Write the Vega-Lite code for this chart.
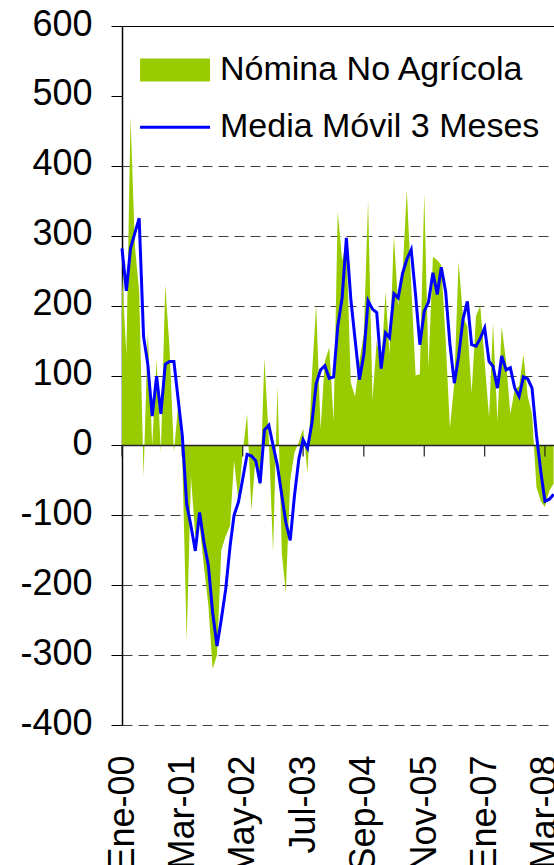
{
  "$schema": "https://vega.github.io/schema/vega-lite/v6.json",
  "width": 436,
  "height": 699,
  "autosize": {"type": "none"},
  "padding": {"left": 122, "top": 26, "right": 0, "bottom": 140},
  "background": "white",
  "config": {"view": {"stroke": null}, "font": "Liberation Sans"},
  "data": {"values": [
    {"fecha": "2000-01-01", "nomina": 246, "media": 282},
    {"fecha": "2000-02-01", "nomina": 130, "media": 221},
    {"fecha": "2000-03-01", "nomina": 470, "media": 282},
    {"fecha": "2000-04-01", "nomina": 285, "media": 304},
    {"fecha": "2000-05-01", "nomina": 220, "media": 325},
    {"fecha": "2000-06-01", "nomina": -45, "media": 156},
    {"fecha": "2000-07-01", "nomina": 163, "media": 116},
    {"fecha": "2000-08-01", "nomina": 0, "media": 42},
    {"fecha": "2000-09-01", "nomina": 123, "media": 99},
    {"fecha": "2000-10-01", "nomina": -10, "media": 45},
    {"fecha": "2000-11-01", "nomina": 230, "media": 116},
    {"fecha": "2000-12-01", "nomina": 140, "media": 120},
    {"fecha": "2001-01-01", "nomina": -10, "media": 120},
    {"fecha": "2001-02-01", "nomina": 60, "media": 64},
    {"fecha": "2001-03-01", "nomina": -15, "media": 14},
    {"fecha": "2001-04-01", "nomina": -280, "media": -84},
    {"fecha": "2001-05-01", "nomina": -45, "media": -115},
    {"fecha": "2001-06-01", "nomina": -130, "media": -151},
    {"fecha": "2001-07-01", "nomina": -113, "media": -96},
    {"fecha": "2001-08-01", "nomina": -174, "media": -139},
    {"fecha": "2001-09-01", "nomina": -229, "media": -172},
    {"fecha": "2001-10-01", "nomina": -320, "media": -239},
    {"fecha": "2001-11-01", "nomina": -300, "media": -287},
    {"fecha": "2001-12-01", "nomina": -150, "media": -249},
    {"fecha": "2002-01-01", "nomina": -130, "media": -206},
    {"fecha": "2002-02-01", "nomina": -115, "media": -144},
    {"fecha": "2002-03-01", "nomina": -22, "media": -100},
    {"fecha": "2002-04-01", "nomina": -80, "media": -81},
    {"fecha": "2002-05-01", "nomina": -10, "media": -48},
    {"fecha": "2002-06-01", "nomina": 45, "media": -13},
    {"fecha": "2002-07-01", "nomina": -93, "media": -15},
    {"fecha": "2002-08-01", "nomina": -15, "media": -22},
    {"fecha": "2002-09-01", "nomina": -60, "media": -54},
    {"fecha": "2002-10-01", "nomina": 125, "media": 22},
    {"fecha": "2002-11-01", "nomina": 10, "media": 29},
    {"fecha": "2002-12-01", "nomina": -153, "media": 0},
    {"fecha": "2003-01-01", "nomina": 85, "media": -29},
    {"fecha": "2003-02-01", "nomina": -155, "media": -72},
    {"fecha": "2003-03-01", "nomina": -210, "media": -110},
    {"fecha": "2003-04-01", "nomina": -50, "media": -136},
    {"fecha": "2003-05-01", "nomina": -10, "media": -72},
    {"fecha": "2003-06-01", "nomina": 5, "media": -19},
    {"fecha": "2003-07-01", "nomina": 24, "media": 8},
    {"fecha": "2003-08-01", "nomina": -40, "media": -4},
    {"fecha": "2003-09-01", "nomina": 100, "media": 32},
    {"fecha": "2003-10-01", "nomina": 201, "media": 88},
    {"fecha": "2003-11-01", "nomina": 23, "media": 108},
    {"fecha": "2003-12-01", "nomina": 120, "media": 114},
    {"fecha": "2004-01-01", "nomina": 140, "media": 96},
    {"fecha": "2004-02-01", "nomina": 35, "media": 98},
    {"fecha": "2004-03-01", "nomina": 335, "media": 170},
    {"fecha": "2004-04-01", "nomina": 265, "media": 211},
    {"fecha": "2004-05-01", "nomina": 291, "media": 297},
    {"fecha": "2004-06-01", "nomina": 90, "media": 210},
    {"fecha": "2004-07-01", "nomina": 70, "media": 152},
    {"fecha": "2004-08-01", "nomina": 120, "media": 94},
    {"fecha": "2004-09-01", "nomina": 160, "media": 130},
    {"fecha": "2004-10-01", "nomina": 350, "media": 207},
    {"fecha": "2004-11-01", "nomina": 65, "media": 195},
    {"fecha": "2004-12-01", "nomina": 150, "media": 190},
    {"fecha": "2005-01-01", "nomina": 110, "media": 110},
    {"fecha": "2005-02-01", "nomina": 220, "media": 161},
    {"fecha": "2005-03-01", "nomina": 130, "media": 154},
    {"fecha": "2005-04-01", "nomina": 300, "media": 217},
    {"fecha": "2005-05-01", "nomina": 200, "media": 211},
    {"fecha": "2005-06-01", "nomina": 245, "media": 246},
    {"fecha": "2005-07-01", "nomina": 365, "media": 266},
    {"fecha": "2005-08-01", "nomina": 230, "media": 280},
    {"fecha": "2005-09-01", "nomina": 100, "media": 215},
    {"fecha": "2005-10-01", "nomina": 102, "media": 144},
    {"fecha": "2005-11-01", "nomina": 360, "media": 192},
    {"fecha": "2005-12-01", "nomina": 111, "media": 205},
    {"fecha": "2006-01-01", "nomina": 270, "media": 247},
    {"fecha": "2006-02-01", "nomina": 265, "media": 216},
    {"fecha": "2006-03-01", "nomina": 258, "media": 255},
    {"fecha": "2006-04-01", "nomina": 150, "media": 220},
    {"fecha": "2006-05-01", "nomina": 25, "media": 145},
    {"fecha": "2006-06-01", "nomina": 90, "media": 89},
    {"fecha": "2006-07-01", "nomina": 263, "media": 127},
    {"fecha": "2006-08-01", "nomina": 185, "media": 180},
    {"fecha": "2006-09-01", "nomina": 170, "media": 206},
    {"fecha": "2006-10-01", "nomina": 75, "media": 144},
    {"fecha": "2006-11-01", "nomina": 185, "media": 142},
    {"fecha": "2006-12-01", "nomina": 200, "media": 153},
    {"fecha": "2007-01-01", "nomina": 120, "media": 168},
    {"fecha": "2007-02-01", "nomina": 40, "media": 120},
    {"fecha": "2007-03-01", "nomina": 175, "media": 113},
    {"fecha": "2007-04-01", "nomina": 35, "media": 82},
    {"fecha": "2007-05-01", "nomina": 170, "media": 128},
    {"fecha": "2007-06-01", "nomina": 120, "media": 108},
    {"fecha": "2007-07-01", "nomina": 45, "media": 111},
    {"fecha": "2007-08-01", "nomina": 80, "media": 82},
    {"fecha": "2007-09-01", "nomina": 85, "media": 70},
    {"fecha": "2007-10-01", "nomina": 130, "media": 98},
    {"fecha": "2007-11-01", "nomina": 70, "media": 95},
    {"fecha": "2007-12-01", "nomina": 45, "media": 82},
    {"fecha": "2008-01-01", "nomina": -60, "media": 15},
    {"fecha": "2008-02-01", "nomina": -80, "media": -38},
    {"fecha": "2008-03-01", "nomina": -88, "media": -80},
    {"fecha": "2008-04-01", "nomina": -65, "media": -77},
    {"fecha": "2008-05-01", "nomina": -55, "media": -70}
  ]},
  "layer": [
    {
      "mark": {"type": "area", "opacity": 1, "interpolate": "linear"},
      "encoding": {
        "x": {
          "field": "fecha", "type": "temporal", "title": null,
          "scale": {"type": "utc", "domain": [{"year": 2000, "month": 1, "date": 1, "utc": true}, {"year": 2008, "month": 6, "date": 1, "utc": true}]},
          "axis": {
            "values": [
              {"year": 2000, "month": 1, "date": 1, "utc": true},
              {"year": 2001, "month": 3, "date": 1, "utc": true},
              {"year": 2002, "month": 5, "date": 1, "utc": true},
              {"year": 2003, "month": 7, "date": 1, "utc": true},
              {"year": 2004, "month": 9, "date": 1, "utc": true},
              {"year": 2005, "month": 11, "date": 1, "utc": true},
              {"year": 2007, "month": 1, "date": 1, "utc": true},
              {"year": 2008, "month": 3, "date": 1, "utc": true}
            ],
            "labelExpr": "['Ene','Feb','Mar','Abr','May','Jun','Jul','Ago','Sep','Oct','Nov','Dic'][utcmonth(datum.value)] + '-' + utcFormat(datum.value, '%y')",
            "labelAngle": 270, "labelAlign": "right", "labelBaseline": "middle",
            "labelFont": "Liberation Sans", "labelFontSize": 36, "labelColor": "#000000",
            "labelPadding": 30, "ticks": false, "tickSize": 0, "domain": false, "grid": false,
            "labelOverlap": false, "labelFlush": false, "labelBound": false
          }
        },
        "y": {
          "field": "nomina", "type": "quantitative", "title": null, "stack": null,
          "scale": {"domain": [-400, 600], "nice": false},
          "axis": {
            "values": [-400, -300, -200, -100, 0, 100, 200, 300, 400, 500, 600],
            "labelExpr": "'' + datum.value",
            "labelFont": "Liberation Sans", "labelFontSize": 36, "labelColor": "#000000",
            "labelPadding": 19, "labelOffset": -2,
            "tickSize": 11, "tickColor": "#000000", "tickWidth": 1,
            "domainColor": "#000000", "domainWidth": 1.5,
            "grid": true,
            "gridColor": {"condition": {"test": "datum.value === 600", "value": "#000000"}, "value": "#404040"},
            "gridDash": {"condition": {"test": "datum.value === 600", "value": []}, "value": [10, 6]},
            "gridOpacity": {"condition": {"test": "datum.value === 500", "value": 0}, "value": 1},
            "gridWidth": 1,
            "labelOverlap": false, "labelFlush": false
          }
        },
        "fill": {
          "datum": "Nómina No Agrícola", "type": "nominal",
          "scale": {"range": ["#99CC00"]},
          "legend": {
            "orient": "none", "legendX": 18, "legendY": 27, "title": null, "padding": 0,
            "labelFont": "Liberation Sans", "labelFontSize": 34, "labelColor": "#000000",
            "labelLimit": 600, "labelOffset": 46,
            "symbolType": "M-1.21,-0.82H3.79V0.82H-1.21Z", "symbolSize": 784,
            "symbolStrokeWidth": 0, "symbolOpacity": 1
          }
        }
      }
    },
    {
      "data": {"values": [{}]},
      "mark": {"type": "rule", "color": "#222222", "strokeWidth": 1.5},
      "encoding": {"y": {"datum": 0, "title": null}}
    },
    {
      "transform": [{"filter": "((utcyear(toDate(datum.fecha)) - 2000) * 12 + utcmonth(toDate(datum.fecha))) % 14 === 0"}],
      "mark": {"type": "rule", "color": "#222222", "strokeWidth": 1.2},
      "encoding": {
        "x": {"field": "fecha", "type": "temporal", "title": null},
        "y": {"datum": 0, "title": null},
        "y2": {"datum": -16}
      }
    },
    {
      "mark": {"type": "line", "strokeWidth": 3, "interpolate": "linear"},
      "encoding": {
        "x": {"field": "fecha", "type": "temporal", "title": null},
        "y": {"field": "media", "type": "quantitative", "title": null},
        "stroke": {
          "datum": "Media Móvil 3 Meses", "type": "nominal",
          "scale": {"range": ["#0000FF"]},
          "legend": {
            "orient": "none", "legendX": 18, "legendY": 84.3, "title": null, "padding": 0,
            "labelFont": "Liberation Sans", "labelFontSize": 34, "labelColor": "#000000",
            "labelLimit": 600, "labelOffset": 46,
            "symbolType": "M-1.21,0H3.79", "symbolSize": 784,
            "symbolStrokeWidth": 3, "symbolOpacity": 1
          }
        }
      }
    }
  ]
}
